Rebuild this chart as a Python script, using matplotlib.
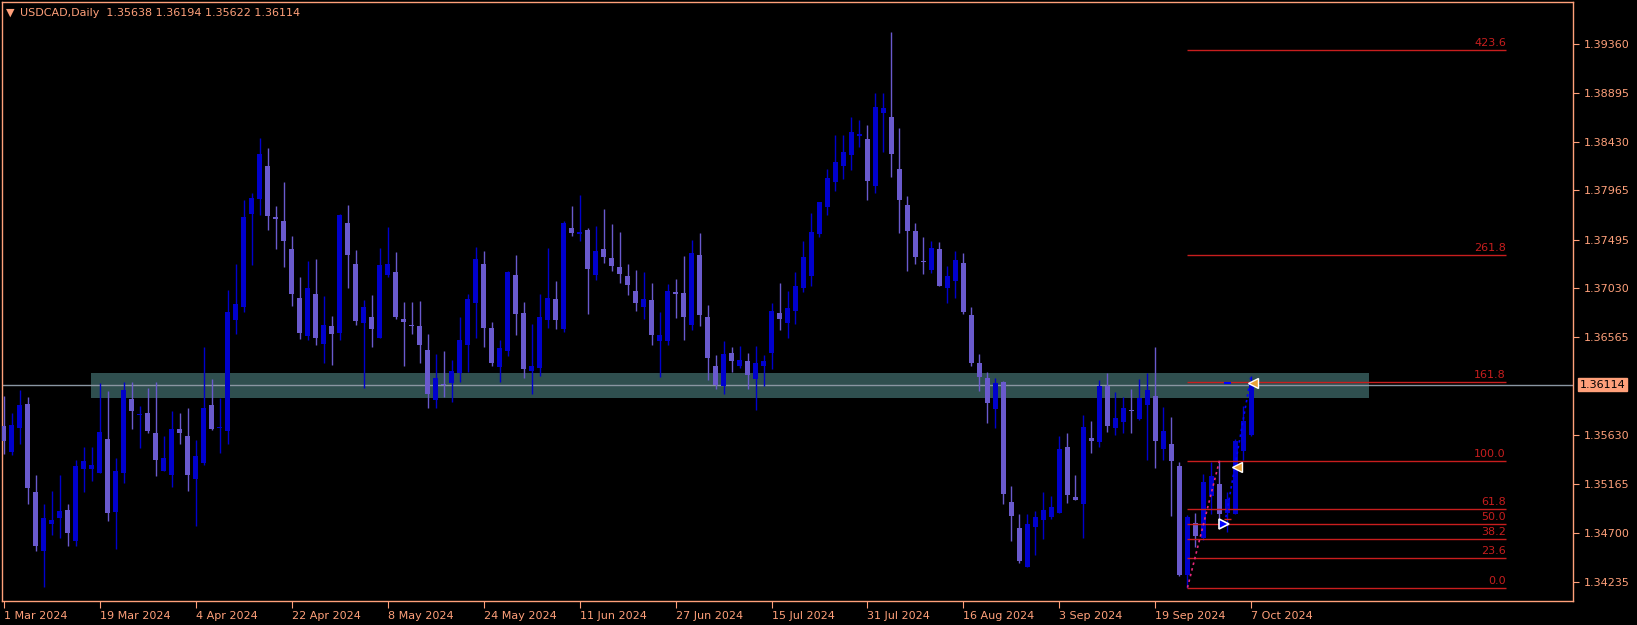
# USDCAD daily candles, MT4 style
import numpy as np
import pandas as pd
import matplotlib
matplotlib.use("Agg")
import matplotlib.pyplot as plt
from matplotlib.patches import Rectangle

# OHLC, one bar per trading day from 1 Mar 2024
opens = [1.3572, 1.3547, 1.3570, 1.3593, 1.3509, 1.3453, 1.3479, 1.3484, 1.3492, 1.3462,
         1.3531, 1.3531, 1.3527, 1.3560, 1.3490, 1.3527, 1.3598, 1.3582, 1.3584, 1.3565,
         1.3529, 1.3525, 1.3569, 1.3562, 1.3521, 1.3537, 1.3592, 1.3570, 1.3567, 1.3673,
         1.3685, 1.3774, 1.3788, 1.3820, 1.3771, 1.3767, 1.3741, 1.3694, 1.3658, 1.3698,
         1.3650, 1.3667, 1.3661, 1.3765, 1.3726, 1.3670, 1.3676, 1.3656, 1.3716, 1.3719,
         1.3674, 1.3668, 1.3667, 1.3644, 1.3597, 1.3612, 1.3613, 1.3622, 1.3649, 1.3689,
         1.3726, 1.3665, 1.3628, 1.3643, 1.3716, 1.3680, 1.3624, 1.3627, 1.3673, 1.3693,
         1.3664, 1.3761, 1.3755, 1.3759, 1.3716, 1.3741, 1.3732, 1.3723, 1.3715, 1.3701,
         1.3685, 1.3692, 1.3653, 1.3653, 1.3699, 1.3699, 1.3668, 1.3735, 1.3676, 1.3629,
         1.3610, 1.3642, 1.3629, 1.3634, 1.3617, 1.3629, 1.3642, 1.3680, 1.3670, 1.3682,
         1.3703, 1.3715, 1.3755, 1.3781, 1.3804, 1.3820, 1.3830, 1.3848, 1.3845, 1.3801,
         1.3870, 1.3866, 1.3817, 1.3783, 1.3758, 1.3729, 1.3721, 1.3741, 1.3703, 1.3710,
         1.3727, 1.3678, 1.3632, 1.3618, 1.3588, 1.3614, 1.3500, 1.3475, 1.3438, 1.3476,
         1.3482, 1.3485, 1.3489, 1.3552, 1.3504, 1.3498, 1.3561, 1.3557, 1.3610, 1.3570,
         1.3576, 1.3587, 1.3579, 1.3592, 1.3601, 1.3550, 1.3555, 1.3534, 1.3430, 1.3480,
         1.3465, 1.3505, 1.3517, 1.3489, 1.3488, 1.3548, 1.35638]
highs = [1.3601, 1.3584, 1.3606, 1.3600, 1.3525, 1.3498, 1.3510, 1.3525, 1.3498, 1.3540,
         1.3552, 1.3552, 1.3613, 1.3605, 1.3541, 1.3614, 1.3614, 1.3591, 1.3608, 1.3614,
         1.3562, 1.3586, 1.3584, 1.3589, 1.3559, 1.3647, 1.3617, 1.3599, 1.3702, 1.3726,
         1.3787, 1.3794, 1.3846, 1.3837, 1.3782, 1.3804, 1.3753, 1.3714, 1.3729, 1.3731,
         1.3696, 1.3677, 1.3774, 1.3783, 1.3740, 1.3692, 1.3697, 1.3742, 1.3762, 1.3738,
         1.3690, 1.3690, 1.3691, 1.3660, 1.3641, 1.3643, 1.3635, 1.3676, 1.3698, 1.3743,
         1.3739, 1.3671, 1.3654, 1.3720, 1.3735, 1.3690, 1.3669, 1.3698, 1.3742, 1.3710,
         1.3767, 1.3782, 1.3792, 1.3761, 1.3763, 1.3779, 1.3764, 1.3757, 1.3726, 1.3721,
         1.3719, 1.3708, 1.3681, 1.3707, 1.3712, 1.3734, 1.3749, 1.3756, 1.3687, 1.3640,
         1.3653, 1.3647, 1.3648, 1.3642, 1.3648, 1.3640, 1.3689, 1.3708, 1.3701, 1.3719,
         1.3748, 1.3775, 1.3785, 1.3817, 1.3849, 1.3849, 1.3866, 1.3864, 1.3859, 1.3889,
         1.3889, 1.3947, 1.3856, 1.3791, 1.3765, 1.3752, 1.3748, 1.3747, 1.3724, 1.3739,
         1.3737, 1.3685, 1.3641, 1.3623, 1.3618, 1.3615, 1.3515, 1.3488, 1.3488, 1.3491,
         1.3509, 1.3505, 1.3562, 1.3565, 1.3525, 1.3582, 1.3577, 1.3616, 1.3622, 1.3604,
         1.3600, 1.3607, 1.3617, 1.3622, 1.3647, 1.3590, 1.3581, 1.3538, 1.3487, 1.3489,
         1.3526, 1.3538, 1.3539, 1.3509, 1.3560, 1.3591, 1.36194]
lows = [1.3545, 1.3544, 1.3555, 1.3498, 1.3453, 1.3419, 1.3468, 1.3465, 1.3458, 1.3458,
        1.3509, 1.3520, 1.3527, 1.3481, 1.3455, 1.3518, 1.3569, 1.3551, 1.3565, 1.3524,
        1.3529, 1.3514, 1.3555, 1.3510, 1.3477, 1.3535, 1.3568, 1.3546, 1.3555, 1.3660,
        1.3681, 1.3725, 1.3773, 1.3759, 1.3741, 1.3723, 1.3686, 1.3655, 1.3654, 1.3649,
        1.3632, 1.3630, 1.3654, 1.3703, 1.3668, 1.3608, 1.3647, 1.3656, 1.3714, 1.3674,
        1.3629, 1.3660, 1.3632, 1.3589, 1.3589, 1.3600, 1.3595, 1.3614, 1.3623, 1.3656,
        1.3647, 1.3629, 1.3614, 1.3639, 1.3659, 1.3618, 1.3602, 1.3620, 1.3665, 1.3664,
        1.3662, 1.3753, 1.3748, 1.3679, 1.3711, 1.3727, 1.3720, 1.3708, 1.3697, 1.3682,
        1.3674, 1.3649, 1.3619, 1.3649, 1.3675, 1.3654, 1.3663, 1.3667, 1.3616, 1.3607,
        1.3602, 1.3623, 1.3627, 1.3607, 1.3587, 1.3610, 1.3626, 1.3663, 1.3656, 1.3669,
        1.3700, 1.3705, 1.3752, 1.3773, 1.3796, 1.3807, 1.3816, 1.3838, 1.3787, 1.3794,
        1.3833, 1.3809, 1.3756, 1.3720, 1.3726, 1.3717, 1.3718, 1.3705, 1.3689, 1.3694,
        1.3679, 1.3629, 1.3605, 1.3575, 1.3570, 1.3498, 1.3462, 1.3441, 1.3438, 1.3449,
        1.3464, 1.3483, 1.3489, 1.3499, 1.3501, 1.3465, 1.3546, 1.3552, 1.3566, 1.3563,
        1.3565, 1.3565, 1.3578, 1.3540, 1.3532, 1.3540, 1.3486, 1.3429, 1.3418, 1.3457,
        1.3463, 1.3488, 1.3482, 1.3471, 1.3488, 1.3540, 1.35622]
closes = [1.3558, 1.3573, 1.3592, 1.3513, 1.3458, 1.3484, 1.3482, 1.3491, 1.3470, 1.3534,
          1.3539, 1.3535, 1.3566, 1.3489, 1.3529, 1.3606, 1.3586, 1.3583, 1.3567, 1.3540,
          1.3541, 1.3569, 1.3565, 1.3525, 1.3543, 1.3589, 1.3569, 1.3571, 1.3681, 1.3688,
          1.3771, 1.3789, 1.3831, 1.3772, 1.3769, 1.3748, 1.3698, 1.3661, 1.3703, 1.3656,
          1.3668, 1.3660, 1.3773, 1.3735, 1.3672, 1.3685, 1.3664, 1.3725, 1.3726, 1.3676,
          1.3671, 1.3667, 1.3649, 1.3602, 1.3618, 1.3611, 1.3624, 1.3654, 1.3693, 1.3731,
          1.3665, 1.3632, 1.3646, 1.3719, 1.3679, 1.3626, 1.3629, 1.3676, 1.3694, 1.3673,
          1.3765, 1.3756, 1.3757, 1.3722, 1.3739, 1.3733, 1.3724, 1.3717, 1.3706, 1.3689,
          1.3693, 1.3659, 1.3659, 1.3701, 1.3698, 1.3676, 1.3737, 1.3678, 1.3637, 1.3611,
          1.3641, 1.3634, 1.3635, 1.3621, 1.3632, 1.3634, 1.3682, 1.3674, 1.3684, 1.3705,
          1.3733, 1.3757, 1.3785, 1.3808, 1.3824, 1.3833, 1.3852, 1.3850, 1.3805, 1.3876,
          1.3875, 1.3831, 1.3787, 1.3758, 1.3733, 1.3728, 1.3742, 1.3705, 1.3715, 1.3730,
          1.3681, 1.3632, 1.3619, 1.3594, 1.3613, 1.3507, 1.3486, 1.3443, 1.3479, 1.3485,
          1.3492, 1.3495, 1.3550, 1.3506, 1.3501, 1.3571, 1.3558, 1.3610, 1.3572, 1.3580,
          1.3589, 1.3586, 1.3599, 1.3606, 1.3558, 1.3567, 1.3539, 1.3430, 1.3485, 1.3467,
          1.3519, 1.3524, 1.3488, 1.3502, 1.3558, 1.3577, 1.36114]

first_day = "2024-03-01"
label_every = 12  # MT4 puts a date every 12 bars here

price_ticks = [1.39360, 1.38895, 1.38430, 1.37965, 1.37495, 1.37030,
               1.36565, 1.35630, 1.35165, 1.34700, 1.34235]

# fibonacci drawn from the 25 Sep low to the 30 Sep high
fib_levels = [0.0, 23.6, 38.2, 50.0, 61.8, 100.0, 161.8, 261.8, 423.6]
fib_low, fib_high = 1.3418, 1.3539
fib_bar0, fib_bar1, fib_bar_end = 148, 152, 187.8

# support/resistance box
zone_low, zone_high = 1.35989, 1.36224
zone_bar0, zone_bar1 = 10.95, 170.7

# trade arrows and the trade line
sell_marks_x = [154.2, 156.2]
sell_marks_y = [1.3533, 1.3613]
buy_mark_x, buy_mark_y = 152.6, 1.3479
trade_line_x = [152.8, 155.9]
trade_line_y = [1.3485, 1.3618]

last_price = 1.36114
header = "USDCAD,Daily  1.35638 1.36194 1.35622 1.36114"

# colours
bg = "black"
fg = "#FFA07A"
bull = "#0000CD"
bear = "#6A5ACD"
fib_col = "#C81E1E"

W, H = 1637, 625
fig = plt.figure(figsize=(W / 100, H / 100), dpi=100, facecolor=bg)
ax = fig.add_axes([2 / W, 24 / H, 1571 / W, 599 / H], facecolor=bg)

o = np.array(opens)
h = np.array(highs)
l = np.array(lows)
c = np.array(closes)
x = np.arange(len(o))
cols = np.where(c >= o, bull, bear)

# zone and bid line underneath the candles
ax.add_patch(Rectangle((zone_bar0, zone_low), zone_bar1 - zone_bar0, zone_high - zone_low,
                       facecolor="#2F4F4F", edgecolor="none", zorder=0.5))
ax.axhline(last_price, color="#8A96A2", lw=1, zorder=1)

# candles
ax.vlines(x, l, h, colors=cols, lw=1, zorder=2)
body_lo = np.minimum(o, c)
body_h = np.maximum(np.abs(c - o), 0.00012)
ax.bar(x, body_h, bottom=body_lo, width=0.625, color=cols, linewidth=0, zorder=3)

# fibonacci
rng = fib_high - fib_low
for lev in fib_levels:
    p = fib_low + rng * lev / 100
    ax.hlines(p, fib_bar0, fib_bar_end, color=fib_col, lw=1, zorder=4)
    ax.text(fib_bar_end, p + 0.00018, "%.1f" % lev, color=fib_col, fontsize=8,
            ha="right", va="bottom", zorder=5)
ax.plot([fib_bar0, fib_bar1], [fib_low, fib_high], color="#E8287A", lw=1.2,
        ls=(0, (1.5, 2)), zorder=5)

# trade marks
ax.plot(trade_line_x, trade_line_y, color="#0000FF", lw=1.2, ls=(0, (1.5, 2)), zorder=5)
ax.hlines([1.3483], buy_mark_x, buy_mark_x + 0.9, color="#E02020", lw=1, zorder=5)
ax.hlines([1.3613], buy_mark_x, buy_mark_x + 0.9, color="#0000FF", lw=1.5, zorder=5)
ax.plot(sell_marks_x, sell_marks_y, ls="none", marker="<", ms=7, mfc="#E8A33A",
        mec="white", mew=1, zorder=6)
ax.plot([buy_mark_x], [buy_mark_y], ls="none", marker=">", ms=7, mfc="#0000FF",
        mec="white", mew=1.2, zorder=6)

# axes limits, px-matched to the original
ax.set_xlim(-0.19, 196.19)
ax.set_ylim(1.34052, 1.39760)

for s in ax.spines.values():
    s.set_color(fg)
    s.set_linewidth(1)

ax.yaxis.tick_right()
ax.set_yticks(price_ticks)
ax.set_yticklabels(["%.5f" % t for t in price_ticks])
ax.tick_params(axis="y", colors=fg, labelsize=8, length=4, pad=4)

dates = pd.bdate_range(first_day, periods=len(o))
tick_idx = list(range(0, len(o), label_every))
ax.set_xticks(tick_idx)
ax.set_xticklabels([f"{dates[i].day} {dates[i]:%b %Y}" for i in tick_idx])
ax.tick_params(axis="x", colors=fg, labelsize=8, length=5, pad=2)
for lbl in ax.get_xticklabels():
    lbl.set_ha("left")

# price tag on the scale
ax.annotate("%.5f" % last_price, xy=(1.0, last_price), xycoords=("axes fraction", "data"),
            xytext=(5, 0), textcoords="offset points", fontsize=8, color="black",
            va="center", ha="left",
            bbox=dict(boxstyle="square,pad=0.15", fc=fg, ec=fg))

# header
fig.text(6 / W, 1 - 13 / H, "\u25bc", color=fg, fontsize=8, va="center")
fig.text(20 / W, 1 - 13 / H, header, color=fg, fontsize=8, va="center")

fig.savefig("out.png", dpi=100, facecolor=bg)
